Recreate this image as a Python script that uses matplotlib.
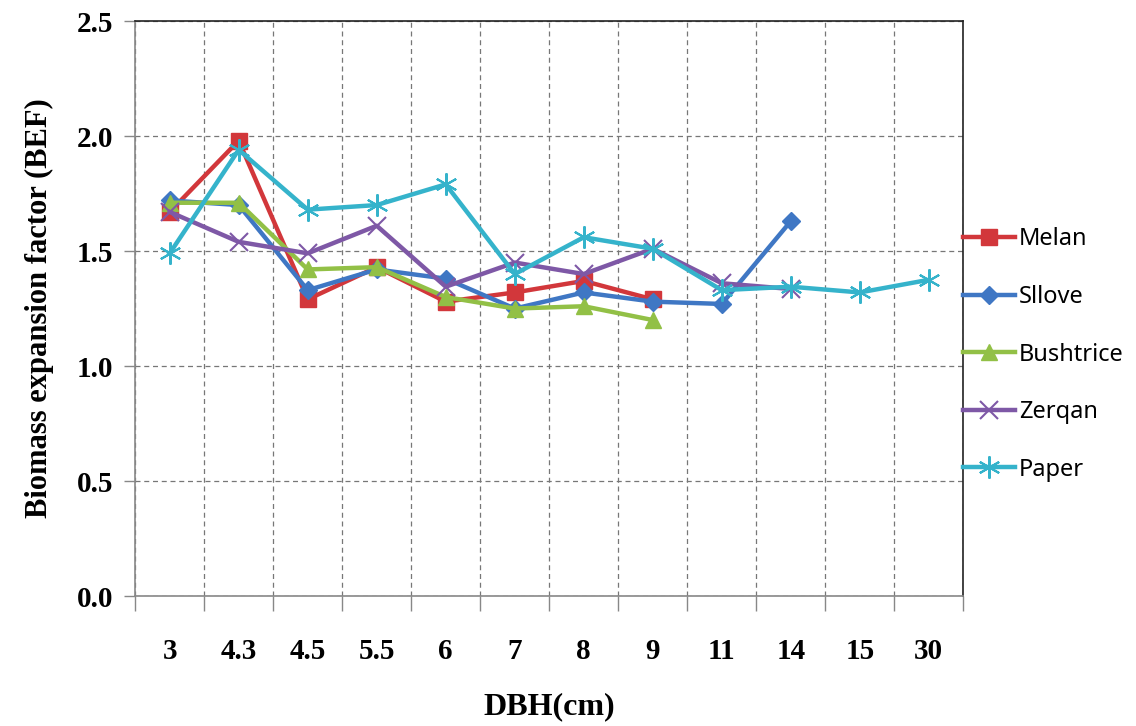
import numpy as np
import matplotlib.pyplot as plt

# DBH classes (categorical axis)
dbh = ["3", "4.3", "4.5", "5.5", "6", "7", "8", "9", "11", "14", "15", "30"]

melan = [1.67, 1.98, 1.29, 1.43, 1.28, 1.32, 1.37, 1.29]
sllove = [1.72, 1.70, 1.33, 1.42, 1.38, 1.25, 1.32, 1.28, 1.27, 1.63]
bushtrice = [1.71, 1.71, 1.42, 1.43, 1.30, 1.25, 1.26, 1.20]
zerqan = [1.67, 1.54, 1.49, 1.61, 1.345, 1.45, 1.40, 1.51, 1.36, 1.335]
paper = [1.49, 1.94, 1.68, 1.70, 1.79, 1.40, 1.56, 1.51, 1.33, 1.345, 1.32, 1.375]

series = [
    ("Melan", melan, "#D2373B", "s", 12),
    ("Sllove", sllove, "#3F77C4", "D", 9),
    ("Bushtrice", bushtrice, "#92C046", "^", 12),
    ("Zerqan", zerqan, "#7E58A6", "x", 13),
    ("Paper", paper, "#35B3CB", (6, 2, 0), 16),
]

fig = plt.figure(figsize=(11.36, 7.26), dpi=100)
ax = fig.add_axes([0.119, 0.179, 0.729, 0.792])

for name, vals, col, mk, ms in series:
    x = np.arange(len(vals))
    ax.plot(x, vals, color=col, lw=3.2, marker=mk, markersize=ms,
            markeredgewidth=1.5 if mk in ("x",) or isinstance(mk, tuple) else 1,
            markeredgecolor=col, label=name, zorder=3)

ax.set_xlim(-0.5, len(dbh) - 0.5)
ax.set_ylim(0, 2.5)
ax.set_yticks(np.arange(0, 2.51, 0.5))
ax.set_yticklabels(["%.1f" % v for v in np.arange(0, 2.51, 0.5)])

# category labels at centers, tick marks at boundaries
ax.set_xticks(np.arange(len(dbh)))
ax.set_xticklabels(dbh)
ax.set_xticks(np.arange(-0.5, len(dbh)), minor=True)
ax.tick_params(axis="x", which="major", length=0, pad=30)
ax.tick_params(axis="x", which="minor", length=11, width=1, color="#888888")
ax.tick_params(axis="y", length=8, width=1, color="#888888", pad=8)

ax.grid(True, axis="x", which="minor", ls=(0, (4, 3)), color="#777777", lw=0.9)
ax.grid(True, axis="y", which="major", ls=(0, (4, 3)), color="#777777", lw=0.9)
ax.set_axisbelow(True)

for lab in ax.get_xticklabels() + ax.get_yticklabels():
    lab.set_fontfamily("Liberation Serif")
    lab.set_fontweight("bold")
    lab.set_fontsize(21)

ax.spines["left"].set_color("#888888")
ax.spines["bottom"].set_color("#888888")
ax.spines["top"].set_color("#222222")
ax.spines["right"].set_color("#222222")
for s in ax.spines.values():
    s.set_linewidth(1.2)

ax.set_xlabel("DBH(cm)", fontfamily="Liberation Serif", fontweight="bold",
              fontsize=23, labelpad=20)
ax.set_ylabel("Biomass expansion factor (BEF)", fontfamily="Liberation Serif",
              fontweight="bold", fontsize=22, labelpad=16)

leg = ax.legend(loc="center left", bbox_to_anchor=(1.0, 0.42), frameon=False,
                prop={"family": "Noto Sans", "size": 17}, labelspacing=1.42,
                handlelength=2.2, handletextpad=0.15, borderaxespad=0,
                borderpad=0)

fig.savefig("out.png", dpi=100)
